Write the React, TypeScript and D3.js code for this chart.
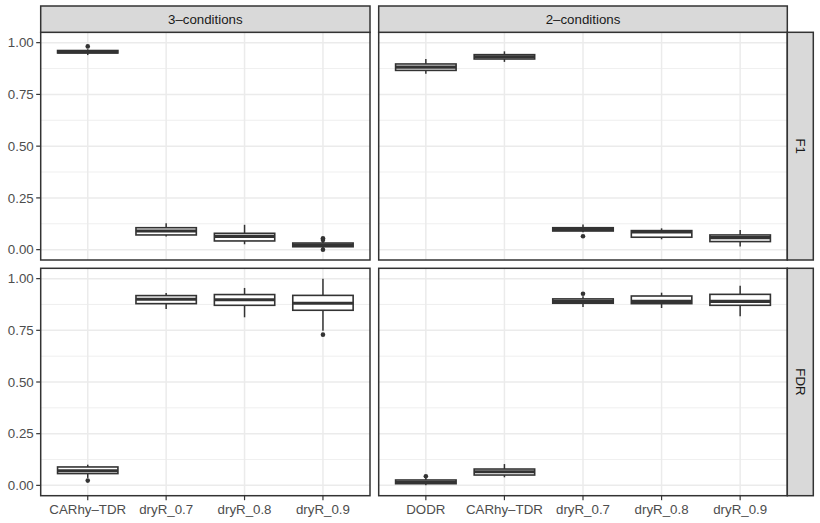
import React from 'react';
import * as d3 from 'd3';

// categories
const methodsThree = ['CARhy–TDR', 'dryR_0.7', 'dryR_0.8', 'dryR_0.9'];
const methodsTwo = ['DODR', 'CARhy–TDR', 'dryR_0.7', 'dryR_0.8', 'dryR_0.9'];
const columns = ['3–conditions', '2–conditions'];
const rows = ['F1', 'FDR'];
const yTicks = [0, 0.25, 0.5, 0.75, 1];
const yMinor = [0.125, 0.375, 0.625, 0.875];

// box stats: [lower whisker, q1, median, q3, upper whisker]
const f1Three = [
  [0.94, 0.95, 0.955, 0.962, 0.968],
  [0.063, 0.071, 0.09, 0.106, 0.128],
  [0.026, 0.042, 0.064, 0.079, 0.12],
  [0.008, 0.014, 0.022, 0.032, 0.037],
];
const f1ThreeOut = [[0.982], [], [], [0.055, 0.047, 0.0]];

const f1Two = [
  [0.85, 0.866, 0.882, 0.897, 0.921],
  [0.907, 0.921, 0.932, 0.942, 0.958],
  [0.084, 0.09, 0.098, 0.106, 0.121],
  [0.05, 0.06, 0.085, 0.092, 0.103],
  [0.015, 0.039, 0.058, 0.071, 0.095],
];
const f1TwoOut = [[], [], [0.065], [], []];

const fdrThree = [
  [0.036, 0.057, 0.071, 0.089, 0.1],
  [0.853, 0.879, 0.9, 0.918, 0.931],
  [0.813, 0.871, 0.898, 0.923, 0.955],
  [0.748, 0.847, 0.881, 0.919, 1.0],
];
const fdrThreeOut = [[0.023], [], [], [0.729]];

const fdrTwo = [
  [0.0, 0.008, 0.015, 0.026, 0.036],
  [0.039, 0.05, 0.066, 0.079, 0.103],
  [0.863, 0.881, 0.89, 0.902, 0.915],
  [0.858, 0.879, 0.89, 0.916, 0.932],
  [0.818, 0.871, 0.89, 0.924, 0.966],
];
const fdrTwoOut = [[0.044], [], [0.927], [], []];

const W = 820;
const H = 523;
const font = '"Liberation Sans", Arial, Helvetica, sans-serif';
const dark = '#333333';

const colX = [[40.7, 370], [378.7, 787.3]];
const rowY = [[32.3, 260], [268.3, 495.7]];
const stripTop = 6;
const stripRight = 813.3;

const panels = [
  { r: 0, c: 0, cats: methodsThree, stats: f1Three, outs: f1ThreeOut },
  { r: 0, c: 1, cats: methodsTwo, stats: f1Two, outs: f1TwoOut },
  { r: 1, c: 0, cats: methodsThree, stats: fdrThree, outs: fdrThreeOut },
  { r: 1, c: 1, cats: methodsTwo, stats: fdrTwo, outs: fdrTwoOut },
];

function Panel({ r, c, cats, stats, outs }: any) {
  const [x0, x1] = colX[c];
  const [y0, y1] = rowY[r];
  const n = cats.length;
  // ggplot discrete expansion: 0.6 units each side
  const x = d3.scaleLinear().domain([0.4, n + 0.6]).range([x0, x1]);
  const y = d3.scaleLinear().domain([-0.05, 1.05]).range([y1, y0]);
  const bw = (x(1) - x(0)) * 0.77;

  return (
    <g>
      <rect x={x0} y={y0} width={x1 - x0} height={y1 - y0} fill="#fff" />
      {yMinor.map(v => (
        <line key={'mn' + v} x1={x0} x2={x1} y1={y(v)} y2={y(v)} stroke="#EBEBEB" strokeWidth={0.8} />
      ))}
      {yTicks.map(v => (
        <line key={'mj' + v} x1={x0} x2={x1} y1={y(v)} y2={y(v)} stroke="#EBEBEB" strokeWidth={1.5} />
      ))}
      {cats.map((_: string, i: number) => (
        <line key={'gx' + i} x1={x(i + 1)} x2={x(i + 1)} y1={y0} y2={y1} stroke="#EBEBEB" strokeWidth={1.5} />
      ))}

      {stats.map((s: number[], i: number) => {
        const cx = x(i + 1);
        return (
          <g key={'b' + i}>
            <line x1={cx} x2={cx} y1={y(s[0])} y2={y(s[1])} stroke={dark} strokeWidth={1.5} />
            <line x1={cx} x2={cx} y1={y(s[3])} y2={y(s[4])} stroke={dark} strokeWidth={1.5} />
            <rect x={cx - bw / 2} y={y(s[3])} width={bw} height={y(s[1]) - y(s[3])}
              fill="#fff" stroke={dark} strokeWidth={1.6} />
            <line x1={cx - bw / 2} x2={cx + bw / 2} y1={y(s[2])} y2={y(s[2])} stroke={dark} strokeWidth={3.1} />
            {outs[i].map((o: number, k: number) => (
              <circle key={k} cx={cx} cy={y(o)} r={2.3} fill={dark} />
            ))}
          </g>
        );
      })}

      <rect x={x0} y={y0} width={x1 - x0} height={y1 - y0} fill="none" stroke={dark} strokeWidth={1.5} />

      {c === 0 && yTicks.map(v => (
        <g key={'yt' + v}>
          <line x1={x0 - 4.5} x2={x0} y1={y(v)} y2={y(v)} stroke={dark} strokeWidth={1.2} />
          <text x={x0 - 7} y={y(v)} dy="0.35em" textAnchor="end" fontSize={13.3} fill="#4D4D4D" fontFamily={font}>
            {v.toFixed(2)}
          </text>
        </g>
      ))}
      {r === 1 && cats.map((cat: string, i: number) => (
        <g key={'xt' + i}>
          <line x1={x(i + 1)} x2={x(i + 1)} y1={y1} y2={y1 + 4.5} stroke={dark} strokeWidth={1.2} />
          <text x={x(i + 1)} y={y1 + 18.5} textAnchor="middle" fontSize={13.3} fill="#4D4D4D" fontFamily={font}>
            {cat}
          </text>
        </g>
      ))}
    </g>
  );
}

export default function App() {
  return (
    <div style={{ position: 'absolute', left: 0, top: 0 }}>
      <svg width={W} height={H} style={{ display: 'block', background: '#fff' }}>
        {panels.map((p, i) => <Panel key={i} {...p} />)}

        {/* column strips */}
        {columns.map((lab, c) => (
          <g key={'cs' + c}>
            <rect x={colX[c][0]} y={stripTop} width={colX[c][1] - colX[c][0]} height={rowY[0][0] - stripTop}
              fill="#D9D9D9" stroke={dark} strokeWidth={1.5} />
            <text x={(colX[c][0] + colX[c][1]) / 2} y={(stripTop + rowY[0][0]) / 2} dy="0.35em"
              textAnchor="middle" fontSize={13.3} fill="#1A1A1A" fontFamily={font}>{lab}</text>
          </g>
        ))}

        {/* row strips */}
        {rows.map((lab, r) => {
          const cx = (colX[1][1] + stripRight) / 2;
          const cy = (rowY[r][0] + rowY[r][1]) / 2;
          return (
            <g key={'rs' + r}>
              <rect x={colX[1][1]} y={rowY[r][0]} width={stripRight - colX[1][1]} height={rowY[r][1] - rowY[r][0]}
                fill="#D9D9D9" stroke={dark} strokeWidth={1.5} />
              <text transform={`translate(${cx},${cy}) rotate(90)`} dy="0.35em" textAnchor="middle"
                fontSize={13.3} fill="#1A1A1A" fontFamily={font}>{lab}</text>
            </g>
          );
        })}
      </svg>
    </div>
  );
}
